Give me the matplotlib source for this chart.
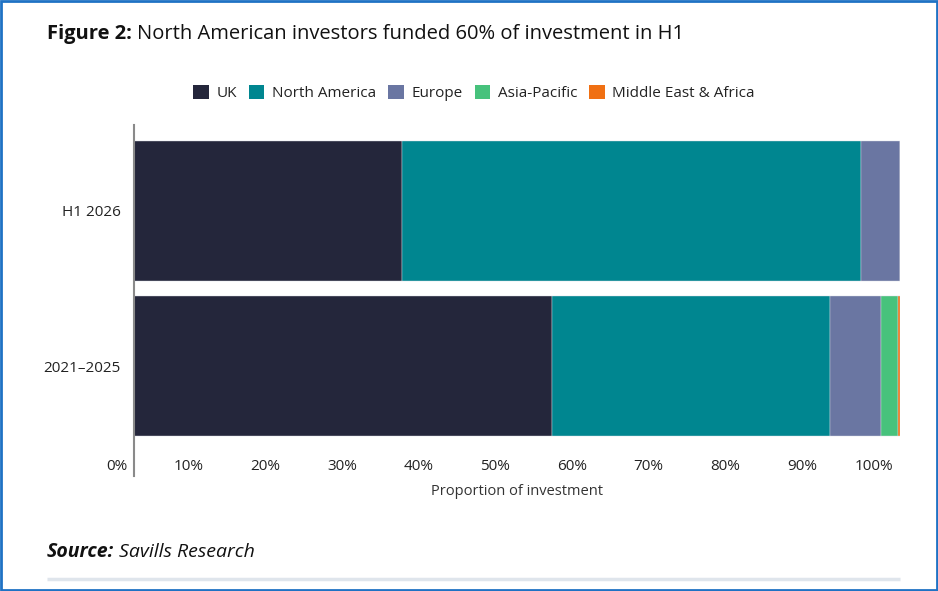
import matplotlib
matplotlib.use("Agg")
import matplotlib.pyplot as plt
from matplotlib.patches import Patch, Rectangle
from matplotlib.lines import Line2D
from matplotlib.transforms import ScaledTranslation
import numpy as np

plt.rcParams['font.family'] = ['Open Sans', 'DejaVu Sans']

periods = ["H1 2026", "2021–2025"]
regions = ["UK", "North America", "Europe", "Asia-Pacific", "Middle East & Africa"]
colors = ["#24263b", "#008690", "#6a76a2", "#47c27c", "#f07013"]
values = {
    "UK":                   [35.0, 54.6],
    "North America":        [59.9, 36.3],
    "Europe":               [5.1, 6.6],
    "Asia-Pacific":         [0.0, 2.3],
    "Middle East & Africa": [0.0, 0.2],
}
xticks = [0, 10, 20, 30, 40, 50, 60, 70, 80, 90, 100]
xtick_labels = [f"{t}%" for t in xticks]

W, H = 938, 591
fig = plt.figure(figsize=(W / 100, H / 100), dpi=100)

# axes placement in pixels
left, right, top, bottom = 133.7, 900.0, 125.0, 476.0
ax = fig.add_axes([left / W, 1 - bottom / H, (right - left) / W, (bottom - top) / H])

y = np.arange(len(periods))
cum = np.zeros(len(periods))
for reg, col in zip(regions, colors):
    v = np.array(values[reg])
    ax.barh(y, v, left=cum, height=0.9, color=col, edgecolor="#d8dbe3",
            linewidth=0.3, label=reg)
    cum += v

ax.set_xlim(0, 100)
ax.set_ylim(1.705, -0.551)
ax.set_yticks(y)
ax.set_yticklabels(periods, fontsize=11, color="#222222")
ax.tick_params(axis="y", length=0, pad=9.5)

ax.set_xticks(xticks)
ax.set_xticklabels(xtick_labels, fontsize=11, color="#222222", ha="right")
ax.tick_params(axis="x", length=0, pad=-12)
off = ScaledTranslation(-0.065, 0, fig.dpi_scale_trans)
for lab in ax.get_xticklabels():
    lab.set_transform(lab.get_transform() + off)

for s in ["top", "right", "bottom"]:
    ax.spines[s].set_visible(False)
ax.spines["left"].set_color("#8a8a8a")
ax.spines["left"].set_linewidth(1.5)

ax.set_xlabel("Proportion of investment", fontsize=10.5, color="#333333")
ax.xaxis.set_label_coords(0.5, -(484 - bottom) / (bottom - top), transform=ax.transAxes)

# legend
handles = [Patch(facecolor=c, edgecolor="none", label=r) for r, c in zip(regions, colors)]
fig.legend(handles=handles, loc="center", bbox_to_anchor=(474 / W, 1 - 93 / H),
           ncol=5, frameon=False, fontsize=11, handlelength=1.0, handleheight=1.0,
           handletextpad=0.5, columnspacing=0.8, labelcolor="#222222")

# title
t1 = fig.text(47 / W, 1 - 34 / H, "Figure 2:", fontsize=14.5, fontweight="bold",
              va="center", ha="left", color="#111111")
fig.canvas.draw()
bb = t1.get_window_extent()
fig.text((bb.x1 + 5) / W, 1 - 34 / H, "North American investors funded 60% of investment in H1",
         fontsize=14.5, va="center", ha="left", color="#111111")

# source
s1 = fig.text(47 / W, 1 - 552 / H, "Source:", fontsize=14, fontweight="bold",
              fontstyle="italic", va="center", ha="left", color="#111111")
fig.canvas.draw()
bb = s1.get_window_extent()
fig.text((bb.x1 + 5) / W, 1 - 552 / H, "Savills Research", fontsize=14,
         fontstyle="italic", va="center", ha="left", color="#111111")

# separator line
fig.add_artist(Line2D([47 / W, 900 / W], [1 - 579 / H, 1 - 579 / H],
                      transform=fig.transFigure, color="#dfe5ec", linewidth=2.5,
                      solid_capstyle="butt"))

# figure border
fig.add_artist(Rectangle((0.001, 0.001), 0.998, 0.997, transform=fig.transFigure,
                         fill=False, edgecolor="#1f72c4", linewidth=2))

fig.savefig("out.png", dpi=100)
